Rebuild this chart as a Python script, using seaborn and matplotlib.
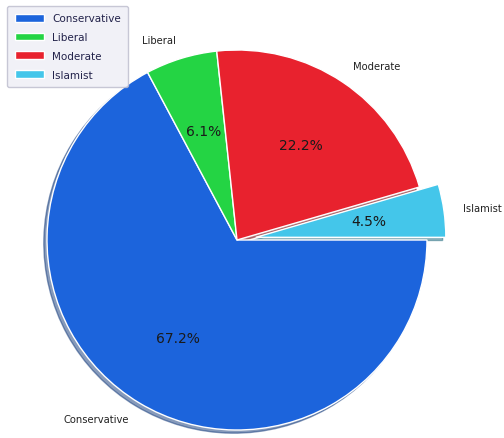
import numpy as np
import pandas as pd
import matplotlib
matplotlib.use("Agg")
import matplotlib.pyplot as plt
import seaborn as sns

# Dados do grafico
grupos = ["Conservative", "Liberal", "Moderate", "Islamist"]
percentuais = [67.2, 6.1, 22.2, 4.5]
cores = ["#1c64dc", "#24d444", "#e8222e", "#44c6ea"]
explode = [0, 0, 0, 0.1]

sns.set_theme(style="white")
plt.rcParams['font.family'] = ['DejaVu Sans']

fig = plt.figure(figsize=(5.04, 4.39), dpi=100)
ax = fig.add_axes([-0.5 / 504, -39.5 / 439, 475 / 504, 475 / 439])

wedges, textos, autotextos = ax.pie(
    percentuais, labels=grupos, colors=cores, explode=explode,
    autopct='%1.1f%%', shadow={'ox': -0.012, 'oy': -0.012, 'shade': 0.45},
    startangle=0, counterclock=False,
    wedgeprops={'edgecolor': 'white', 'linewidth': 1},
    textprops={'fontsize': 7.2, 'color': '#222222'})
for t in autotextos:
    t.set_fontsize(10)
    t.set_color('#1a1a1a')

ax.set_xlim(-1.25, 1.25)
ax.set_ylim(-1.25, 1.25)
ax.set_aspect('equal')

leg = fig.legend(wedges, grupos, loc='upper left', bbox_to_anchor=(0.004, 0.996),
                 fontsize=7.5, frameon=True, facecolor='#eeeef6', edgecolor='#bbbbcc',
                 handlelength=2.8, handleheight=0.8, borderpad=0.7, labelspacing=0.85)
for txt in leg.get_texts():
    txt.set_color('#22224a')

fig.savefig('out.png', dpi=100)
